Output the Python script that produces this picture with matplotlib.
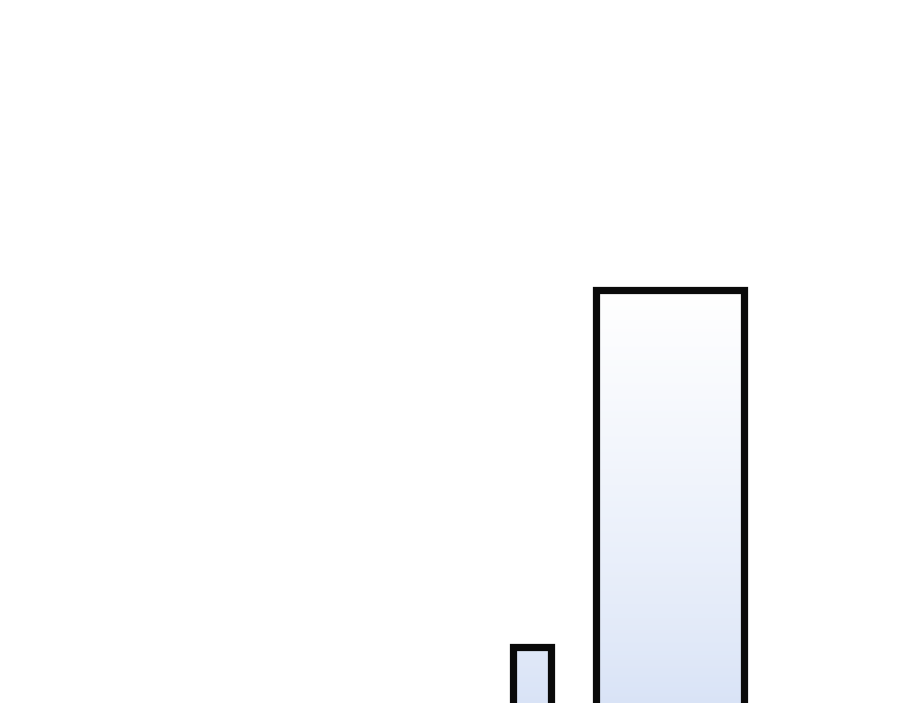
import numpy as np
import matplotlib
matplotlib.use("Agg")
import matplotlib.pyplot as plt
from matplotlib.colors import LinearSegmentedColormap

# data
categories = ["A", "B"]
values = [10, 61]
widths = [0.27, 1.07]
baseline = 0

fig = plt.figure(figsize=(9, 7.03), dpi=100)
ax = fig.add_axes([0, 0, 1, 1])
ax.axis("off")

cmap = LinearSegmentedColormap.from_list("g", ["#d6e1f6", "#ffffff"])
x = np.arange(len(categories))
bars = ax.bar(x, values, width=widths, bottom=baseline, facecolor="none",
              edgecolor="#0a0a0a", linewidth=5.2, zorder=3)
grad = (np.linspace(0, 1, 256) ** 0.75).reshape(-1, 1)
top = max(values)
for b in bars:
    x0, y0 = b.get_x(), b.get_y()
    w = b.get_width()
    im = ax.imshow(grad, cmap=cmap, aspect="auto", origin="lower",
                   extent=[x0, x0 + w, y0, top], zorder=2,
                   vmin=0, vmax=1)
    im.set_clip_path(b)
ax.set_xlim(-3.855, 2.667)
ax.set_ylim(2, 2 + 703 / 7)

fig.savefig("out.png", dpi=100)
